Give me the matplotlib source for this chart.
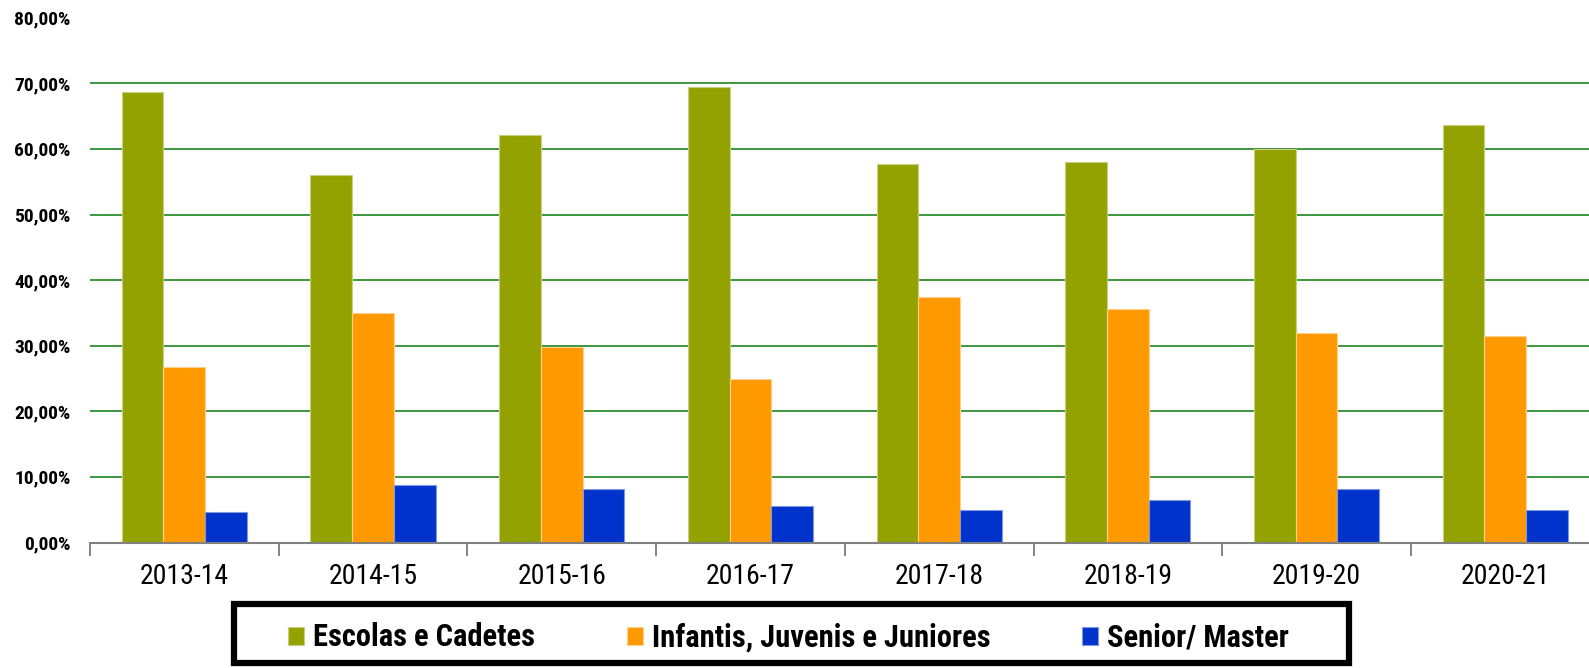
import matplotlib
matplotlib.use("Agg")
import os
import matplotlib.pyplot as plt
import numpy as np
from matplotlib import font_manager
from matplotlib.font_manager import FontProperties
from matplotlib.patches import Rectangle
from matplotlib.ticker import FuncFormatter, FixedLocator

categories = ["2013-14", "2014-15", "2015-16", "2016-17", "2017-18", "2018-19", "2019-20", "2020-21"]
series_names = ["Escolas e Cadetes", "Infantis, Juvenis e Juniores", "Senior/ Master"]
escolas = [68.6, 56.0, 62.1, 69.5, 57.7, 58.0, 60.0, 63.7]
infantis = [26.7, 35.0, 29.8, 24.9, 37.4, 35.6, 31.9, 31.5]
senior = [4.6, 8.8, 8.2, 5.6, 4.9, 6.5, 8.2, 4.9]
yticks = [0, 10, 20, 30, 40, 50, 60, 70, 80]
colors = ["#94a200", "#ff9900", "#0033cc"]
edge_colors = ["#c8d080", "#ffd090", "#8098e0"]


def find_font(bold):
    files = [f.fname for f in font_manager.fontManager.ttflist]
    prefs = ["RobotoCondensed", "LiberationSansNarrow", "DejaVuSansCondensed", "OpenSans-Cond",
             "OpenSansCondensed", "Condensed", "Narrow"]
    for p in prefs:
        cands = [fn for fn in files if p.lower() in os.path.basename(fn).lower()
                 and "italic" not in os.path.basename(fn).lower()
                 and "oblique" not in os.path.basename(fn).lower()]
        if bold:
            c2 = [fn for fn in cands if "bold" in os.path.basename(fn).lower()
                  and "semi" not in os.path.basename(fn).lower()
                  and "extra" not in os.path.basename(fn).lower()]
        else:
            c2 = [fn for fn in cands if "bold" not in os.path.basename(fn).lower()
                  and "light" not in os.path.basename(fn).lower()
                  and "thin" not in os.path.basename(fn).lower()]
        if c2:
            return FontProperties(fname=sorted(c2, key=len)[0]), True
    return FontProperties(family="DejaVu Sans", weight="bold" if bold else "normal"), False


fp_reg, ok_reg = find_font(False)
fp_bold, ok_bold = find_font(True)
scale = 1.0 if ok_bold else 0.85

W, H = 1589, 668
fig = plt.figure(figsize=(W / 100, H / 100), dpi=100)
left = 90 / W
bottom = (H - 542.5) / H
top = (H - 17.7) / H
right = 1599.6 / W
ax = fig.add_axes([left, bottom, right - left, top - bottom])

x = np.arange(len(categories))
bw = 0.221
for i, (vals, c, ec) in enumerate(zip([escolas, infantis, senior], colors, edge_colors)):
    ax.bar(x + (i - 1) * bw, vals, width=bw, color=c, edgecolor=ec, linewidth=0.8,
           label=series_names[i], zorder=3)

ax.set_xlim(-0.5, len(categories) - 0.5)
ax.set_ylim(0, 80)
ax.set_yticks(yticks)
ax.yaxis.set_major_formatter(FuncFormatter(lambda v, p: f"{v:.2f}".replace(".", ",") + "%"))
ax.tick_params(axis="y", length=0, pad=14)
for lab in ax.get_yticklabels():
    lab.set_fontproperties(fp_bold)
    lab.set_fontsize(14 * scale)

for yv in yticks[1:-1]:
    ax.axhline(yv, color="#2e8f2e", linewidth=1.3, zorder=1)

ax.set_xticks(x)
ax.set_xticklabels(categories)
ax.tick_params(axis="x", which="major", length=0, pad=15)
for lab in ax.get_xticklabels():
    lab.set_fontproperties(fp_reg)
    lab.set_fontsize(20 * scale)
ax.xaxis.set_minor_locator(FixedLocator(np.arange(-0.5, len(categories), 1.0)))
ax.tick_params(axis="x", which="minor", length=9, width=1.2, color="#707070", direction="out")

for s in ["top", "right", "left"]:
    ax.spines[s].set_visible(False)
ax.spines["bottom"].set_color("#808080")
ax.spines["bottom"].set_linewidth(1.5)
ax.spines["bottom"].set_zorder(4)

lp = fp_bold.copy()
lp.set_size(22 * scale)
leg = fig.legend(loc="center", bbox_to_anchor=(788.5 / W, 30.5 / H), ncol=3,
                 frameon=False, prop=lp,
                 handlelength=0.52, handleheight=0.52, handletextpad=0.3,
                 columnspacing=3.0, borderpad=0.2)

box = Rectangle((234 / W, (H - 663) / H), (1349 - 234) / W, (663 - 604) / H,
                transform=fig.transFigure, fill=False, edgecolor="black",
                linewidth=4.5, joinstyle="miter", zorder=5)
fig.add_artist(box)

fig.savefig("out.png", dpi=100)
